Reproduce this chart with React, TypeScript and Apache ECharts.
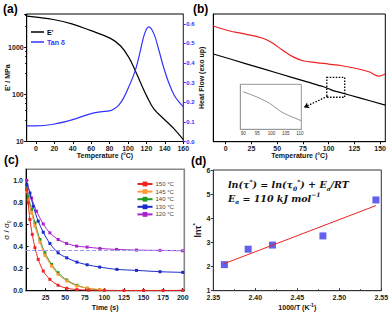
import React, { useEffect, useRef } from 'react';
import * as echarts from 'echarts';

// (a) DMA
const T_E = [-10, 0, 19, 39, 59, 81, 92, 101, 108, 113.5, 121, 128, 139, 150, 160];
const E_STORAGE = [4500, 4280, 3830, 3100, 2245, 1525, 1050, 595, 312, 177, 86, 49, 30, 18.5, 10.9];
const T_TAN = [-10, 0, 19, 39, 59, 70, 81, 86, 90, 95, 101, 108, 113.5, 118, 122.5, 128, 133.5, 139, 144.5, 150, 155, 160];
const TAN_D = [0.08, 0.08, 0.088, 0.11, 0.141, 0.151, 0.157, 0.17, 0.186, 0.22, 0.28, 0.364, 0.465, 0.55, 0.584, 0.55, 0.465, 0.372, 0.296, 0.237, 0.203, 0.178];
const A_X_TICKS = [0, 20, 40, 60, 80, 100, 120, 140, 160];
const A_Y2_TICKS = [0, 0.1, 0.2, 0.3, 0.4, 0.5, 0.6];

// (b) DSC
const T_RED = [-12, 3, 19, 36, 45, 55, 65, 75, 88, 100, 113, 126, 139, 149, 155];
const HF_RED = [90.6, 86.9, 84.3, 81.0, 77.5, 71.8, 66.6, 63.4, 61.9, 60.8, 59.5, 57.5, 54.8, 51.4, 53.0];
const T_BLK = [-12, 20, 50, 80, 95, 100, 105, 110, 130, 155];
const HF_BLK = [68.7, 61.0, 53.8, 46.6, 43.0, 41.5, 39.8, 38.8, 34.3, 28.7];
const B_X_TICKS = [0, 25, 50, 75, 100, 125, 150];
const T_INSET = [90, 94.6, 99.3, 103.4, 105.7, 110.5];
const HF_INSET = [37.6, 32.6, 26, 17.6, 14.3, 8.6];
const INSET_TICKS = [90, 95, 100, 105, 110];

// (c) stress relaxation
const T150 = [0.9, 2.8, 5, 8, 11.4, 15.6, 22, 30.5, 41, 52, 65, 80, 100, 125, 150, 175, 200];
const V150 = [0.915, 0.795, 0.645, 0.51, 0.39, 0.284, 0.178, 0.103, 0.049, 0.022, 0.01, 0.005, 0.003, 0.002, 0.002, 0.002, 0.003];
const T145 = [0.9, 2.8, 7.1, 11.4, 17.8, 24.1, 32.7, 41, 52, 65, 78, 94, 100];
const V145 = [0.9, 0.826, 0.705, 0.584, 0.44, 0.32, 0.223, 0.148, 0.088, 0.042, 0.024, 0.01, 0.005];
const T140 = [0.9, 2.8, 7.1, 11.4, 17.8, 24.1, 32.7, 41, 52, 65, 78, 94];
const V140 = [0.93, 0.855, 0.735, 0.614, 0.464, 0.343, 0.238, 0.163, 0.097, 0.049, 0.022, 0.007];
const T130 = [1, 5, 9.2, 15.6, 22, 30.5, 41, 52, 65, 78, 94, 116, 141, 171, 200];
const V130 = [0.96, 0.885, 0.765, 0.63, 0.53, 0.428, 0.343, 0.298, 0.259, 0.235, 0.214, 0.193, 0.184, 0.172, 0.166];
const T120 = [0.8, 7.1, 13.5, 22, 30.5, 41, 51.8, 64.6, 78, 94.4, 115.7, 141, 171, 200];
const V120 = [1.0, 0.84, 0.72, 0.605, 0.524, 0.464, 0.428, 0.404, 0.395, 0.383, 0.374, 0.368, 0.365, 0.362];
const C_NAMES = ['150 °C', '145 °C', '140 °C', '130 °C', '120 °C'];
const C_COLORS = ['#ee2424', '#ff9a3a', '#229a22', '#1a2acc', '#aa22cc'];
const REF_LEVEL = 0.37;
const C_X_TICKS = [25, 50, 75, 100, 125, 150, 175, 200];
const C_Y_TICKS = [0, 0.2, 0.4, 0.6, 0.8, 1.0];

// (d) Arrhenius
const INV_T = [2.3632, 2.3915, 2.4204, 2.4805, 2.5436];
const LN_TAU = [2.08, 2.72, 2.89, 3.27, 4.76];

const FONT = 'Liberation Sans';
const pairs = (xs: number[], ys: number[]) => xs.map((x, i) => [x, ys[i]]);

function fitLine(xs: number[], ys: number[]) {
  const n = xs.length;
  const mx = xs.reduce((a, b) => a + b, 0) / n;
  const my = ys.reduce((a, b) => a + b, 0) / n;
  let sxy = 0, sxx = 0;
  xs.forEach((x, i) => { sxy += (x - mx) * (ys[i] - my); sxx += (x - mx) * (x - mx); });
  const k = sxy / sxx;
  const x0 = Math.min(...xs), x1 = Math.max(...xs);
  return [[x0, my + k * (x0 - mx)], [x1, my + k * (x1 - mx)]];
}

const lbl = { fontFamily: FONT, fontSize: 7, fontWeight: 'bold', color: '#222', margin: 3 };
const nameStyle = { fontFamily: FONT, fontSize: 7, fontWeight: 'bold', color: '#111' };
const line = (color: string, width = 1) => ({ show: true, onZero: false, lineStyle: { color, width } });

export default function App() {
  const ref = useRef<HTMLDivElement>(null);
  useEffect(() => {
    const chart = echarts.init(ref.current!, null, { renderer: 'svg' });
    const cData = [pairs(T150, V150), pairs(T145, V145), pairs(T140, V140), pairs(T130, V130), pairs(T120, V120)];
    const cSeries: any[] = cData.map((d, i) => ({
      type: 'line', name: C_NAMES[i], xAxisIndex: 2, yAxisIndex: 3, data: d, smooth: 0.3,
      symbol: 'rect', symbolSize: 3, showSymbol: true,
      lineStyle: { color: C_COLORS[i], width: 1 }, itemStyle: { color: C_COLORS[i] },
      z: 5 - i,
      ...(i === 4 ? {
        markLine: {
          silent: true, symbol: 'none', label: { show: false },
          lineStyle: { color: '#9a9af0', type: 'dashed', width: 1 },
          data: [{ yAxis: REF_LEVEL }],
        },
      } : {}),
    }));

    const option: any = {
      animation: false,
      backgroundColor: '#fff',
      grid: [
        { left: 26.7, top: 14, width: 156.6, height: 127.5, show: true, borderColor: '#000', borderWidth: 1, outerBoundsMode: 'none' },
        { left: 213.3, top: 14, width: 172, height: 127.7, show: true, borderColor: '#000', borderWidth: 1, outerBoundsMode: 'none' },
        { left: 26, top: 169.3, width: 158.3, height: 121.4, show: true, borderColor: '#888', borderWidth: 1.6, outerBoundsMode: 'none' },
        { left: 213.3, top: 170, width: 168, height: 120.7, show: true, borderColor: '#333', borderWidth: 1, outerBoundsMode: 'none' },
        { left: 240.3, top: 84.3, width: 61, height: 45, show: true, borderColor: '#999', borderWidth: 1, backgroundColor: '#fff', outerBoundsMode: 'none' },
      ],
      xAxis: [
        {
          gridIndex: 0, type: 'value', min: -10, max: 160,
          name: 'Temperature (°C)', nameLocation: 'middle', nameGap: 10, nameTextStyle: nameStyle, nameMoveOverlap: false,
          axisLine: line('#000'), splitLine: { show: false },
          axisTick: { customValues: A_X_TICKS, length: 2.5, lineStyle: { color: '#000' } },
          axisLabel: { ...lbl, customValues: A_X_TICKS },
        },
        {
          gridIndex: 1, type: 'value', min: -12, max: 155,
          name: 'Temperature (°C)', nameLocation: 'middle', nameGap: 10, nameTextStyle: nameStyle, nameMoveOverlap: false,
          axisLine: line('#000'), splitLine: { show: false },
          axisTick: { customValues: B_X_TICKS, length: 2.5, lineStyle: { color: '#000' } },
          axisLabel: { ...lbl, customValues: B_X_TICKS },
        },
        {
          gridIndex: 2, type: 'value', min: 0, max: 202,
          name: 'Time (s)', nameLocation: 'middle', nameGap: 13, nameTextStyle: nameStyle, nameMoveOverlap: false,
          axisLine: line('#000'), splitLine: { show: false },
          axisTick: { customValues: C_X_TICKS, length: 2.5, inside: true, lineStyle: { color: '#000' } },
          axisLabel: { ...lbl, customValues: C_X_TICKS },
        },
        {
          gridIndex: 3, type: 'value', min: 2.35, max: 2.55, interval: 0.05,
          name: '{a|1000/T (K}{s|-1}{a|)}', nameLocation: 'middle', nameGap: 12, nameMoveOverlap: false,
          nameTextStyle: { ...nameStyle, rich: { a: { ...nameStyle, lineHeight: 10 }, s: { ...nameStyle, fontSize: 5, verticalAlign: 'top', lineHeight: 10 } } },
          axisLine: line('#333'), splitLine: { show: false },
          axisTick: { length: 2.5, inside: true, lineStyle: { color: '#333' } },
          minorTick: { show: true, splitNumber: 2, length: 1.5, lineStyle: { color: '#333' } },
          axisLabel: { ...lbl, formatter: (v: number) => v.toFixed(2) },
        },
        {
          gridIndex: 4, type: 'value', min: 89, max: 110.5,
          axisLine: line('#999'), splitLine: { show: false },
          axisTick: { show: false },
          axisLabel: { fontFamily: FONT, fontSize: 4.5, color: '#333', margin: 2, customValues: INSET_TICKS },
        },
      ],
      yAxis: [
        {
          gridIndex: 0, type: 'log', min: 10, max: 5000, logBase: 10,
          name: "E' / MPa", nameLocation: 'middle', nameGap: 16, nameTextStyle: nameStyle, nameMoveOverlap: false,
          axisLine: line('#000'), splitLine: { show: false },
          axisTick: { length: 2.5, lineStyle: { color: '#000' } },
          minorTick: { show: true, splitNumber: 5, length: 1.5, lineStyle: { color: '#000' } },
          axisLabel: { ...lbl, showMaxLabel: false, formatter: (v: number) => String(Math.round(v)) },
        },
        {
          gridIndex: 0, type: 'value', min: 0, max: 0.65, position: 'right',
          axisLine: line('#3333ff'), splitLine: { show: false },
          axisTick: { customValues: A_Y2_TICKS, length: 2.5, lineStyle: { color: '#3333ff' } },
          axisLabel: { ...lbl, color: '#3333ff', fontSize: 6, customValues: A_Y2_TICKS, formatter: (v: number) => v.toFixed(1) },
        },
        {
          gridIndex: 1, type: 'value', min: 0, max: 100,
          name: 'Heat Flow (exo up)', nameLocation: 'middle', nameGap: 8, nameTextStyle: nameStyle, nameMoveOverlap: false,
          axisLine: line('#000'), splitLine: { show: false }, axisTick: { show: false }, axisLabel: { show: false },
        },
        {
          gridIndex: 2, type: 'value', min: 0, max: 1.1,
          name: '{a|σ / σ}{s|0}', nameLocation: 'middle', nameGap: 15, nameMoveOverlap: false,
          nameTextStyle: { ...nameStyle, rich: { a: { ...nameStyle, fontSize: 8, fontWeight: 'normal', lineHeight: 10 }, s: { ...nameStyle, fontSize: 5, fontWeight: 'normal', verticalAlign: 'bottom', lineHeight: 10 } } },
          axisLine: line('#000'), splitLine: { show: false },
          axisTick: { customValues: C_Y_TICKS, length: 2.5, inside: true, lineStyle: { color: '#000' } },
          axisLabel: { ...lbl, customValues: C_Y_TICKS, formatter: (v: number) => v.toFixed(1) },
        },
        {
          gridIndex: 3, type: 'value', min: 1, max: 6, interval: 1,
          name: '{a|lnτ}{s|*}', nameLocation: 'middle', nameGap: 10, nameMoveOverlap: false,
          nameTextStyle: { rich: { a: { ...nameStyle, fontSize: 9, lineHeight: 11 }, s: { ...nameStyle, fontSize: 6, verticalAlign: 'top', lineHeight: 11 } } },
          axisLine: line('#333'), splitLine: { show: false },
          axisTick: { length: 2.5, lineStyle: { color: '#333' } },
          axisLabel: { ...lbl },
        },
        {
          gridIndex: 4, type: 'value', min: 0, max: 45,
          axisLine: line('#999'), splitLine: { show: false },
          axisTick: { show: false }, axisLabel: { show: false },
        },
      ],
      legend: [
        {
          left: 31, top: 28, orient: 'vertical', padding: 0, itemGap: 2, itemWidth: 13, itemHeight: 1.5, icon: 'rect',
          textStyle: { fontFamily: FONT, fontSize: 7, fontWeight: 'bold', lineHeight: 8, padding: [0, 0, 0, -2] },
          data: [
            { name: "E'", textStyle: { color: '#000' } },
            { name: 'Tan δ', textStyle: { color: '#3333ff' } },
          ],
        },
        {
          left: 136.5, top: 181, orient: 'vertical', padding: 0, itemGap: 1.6, itemWidth: 15, itemHeight: 6,
          textStyle: { fontFamily: FONT, fontSize: 6, color: '#444', padding: [0, 0, 0, -2] },
          data: C_NAMES,
        },
      ],
      series: [
        { type: 'line', name: "E'", xAxisIndex: 0, yAxisIndex: 0, data: pairs(T_E, E_STORAGE), smooth: 0.4, showSymbol: false, symbol: 'none', lineStyle: { color: '#000', width: 1.2 }, itemStyle: { color: '#000' } },
        { type: 'line', name: 'Tan δ', xAxisIndex: 0, yAxisIndex: 1, data: pairs(T_TAN, TAN_D), smooth: 0.4, showSymbol: false, symbol: 'none', lineStyle: { color: '#3333ff', width: 1.2 }, itemStyle: { color: '#3333ff' } },
        { type: 'line', name: 'DSC1', xAxisIndex: 1, yAxisIndex: 2, data: pairs(T_RED, HF_RED), smooth: 0.4, showSymbol: false, symbol: 'none', lineStyle: { color: '#ee2222', width: 1.2 } },
        {
          type: 'line', name: 'DSC2', xAxisIndex: 1, yAxisIndex: 2, data: pairs(T_BLK, HF_BLK), smooth: 0.3, showSymbol: false, symbol: 'none', lineStyle: { color: '#000', width: 1.2 },
          markArea: {
            silent: true,
            itemStyle: { color: 'rgba(0,0,0,0)', borderColor: '#000', borderWidth: 1.3, borderType: [1.5, 1.5] },
            data: [[{ coord: [98.2, 50.4] }, { coord: [115.6, 34.8] }]],
          },
          markLine: {
            silent: true, symbol: ['none', 'arrow'], symbolSize: [5, 5], label: { show: false },
            lineStyle: { color: '#000', width: 1.3, type: [1.5, 1.5] },
            data: [[{ coord: [99, 35.6] }, { coord: [76.1, 26.9] }]],
          },
        },
        { type: 'line', name: 'inset', xAxisIndex: 4, yAxisIndex: 5, data: pairs(T_INSET, HF_INSET), smooth: 0.3, showSymbol: false, symbol: 'none', lineStyle: { color: '#777', width: 0.8 } },
        ...cSeries,
        { type: 'scatter', name: 'pts', xAxisIndex: 3, yAxisIndex: 4, data: pairs(INV_T, LN_TAU), symbol: 'rect', symbolSize: 7, itemStyle: { color: '#3a3ae8' }, z: 3 },
        { type: 'line', name: 'fit', xAxisIndex: 3, yAxisIndex: 4, data: fitLine(INV_T, LN_TAU), showSymbol: false, symbol: 'none', lineStyle: { color: '#ee2222', width: 1 }, z: 4 },
      ],
      graphic: [
        { type: 'text', x: 3, y: 9, style: { text: '(a)', fontFamily: FONT, fontSize: 12, fontWeight: 'bold', fill: '#000', verticalAlign: 'middle' } },
        { type: 'text', x: 193, y: 9, style: { text: '(b)', fontFamily: FONT, fontSize: 12, fontWeight: 'bold', fill: '#000', verticalAlign: 'middle' } },
        { type: 'text', x: 4, y: 160, style: { text: '(c)', fontFamily: FONT, fontSize: 12, fontWeight: 'bold', fill: '#000', verticalAlign: 'middle' } },
        { type: 'text', x: 191, y: 161, style: { text: '(d)', fontFamily: FONT, fontSize: 12, fontWeight: 'bold', fill: '#000', verticalAlign: 'middle' } },
        {
          type: 'text', x: 228, y: 184.5, z: 10,
          style: {
            text: '{i|ln(τ}{p|*}{i|) = ln(τ}{q|0}{p|*}{i|) + E}{q|a}{i|/RT}',
            verticalAlign: 'middle',
            rich: {
              i: { fontFamily: 'DejaVu Serif', fontSize: 9.5, fontStyle: 'italic', fontWeight: 'bold', fill: '#111', lineHeight: 13 },
              p: { fontFamily: 'DejaVu Serif', fontSize: 6, fontStyle: 'italic', fontWeight: 'bold', fill: '#111', verticalAlign: 'top', lineHeight: 13 },
              q: { fontFamily: 'DejaVu Serif', fontSize: 6, fontStyle: 'italic', fontWeight: 'bold', fill: '#111', verticalAlign: 'bottom', lineHeight: 13 },
            },
          },
        },
        {
          type: 'text', x: 228, y: 198, z: 10,
          style: {
            text: '{i|E}{q|a}{i| = 110 kJ mol}{p|−1}',
            verticalAlign: 'middle',
            rich: {
              i: { fontFamily: 'DejaVu Serif', fontSize: 9.5, fontStyle: 'italic', fontWeight: 'bold', fill: '#111', lineHeight: 13 },
              p: { fontFamily: 'DejaVu Serif', fontSize: 6, fontStyle: 'italic', fontWeight: 'bold', fill: '#111', verticalAlign: 'top', lineHeight: 13 },
              q: { fontFamily: 'DejaVu Serif', fontSize: 6, fontStyle: 'italic', fontWeight: 'bold', fill: '#111', verticalAlign: 'bottom', lineHeight: 13 },
            },
          },
        },
      ],
    };
    chart.setOption(option);
    return () => chart.dispose();
  }, []);
  return <div ref={ref} style={{ position: 'absolute', left: 0, top: 0, width: 392, height: 313 }} />;
}
